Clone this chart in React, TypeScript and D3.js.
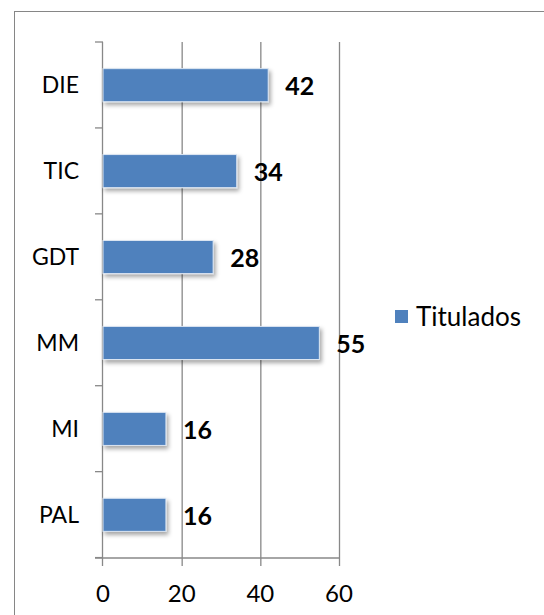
import { useRef, useEffect } from 'react';
import * as d3 from 'd3';

const categories = ['DIE', 'TIC', 'GDT', 'MM', 'MI', 'PAL'];
const titulados = [42, 34, 28, 55, 16, 16];
const xTicks = [0, 20, 40, 60];
const seriesName = 'Titulados';

const W = 544;
const H = 615;

function App() {
  const ref = useRef<SVGSVGElement>(null);

  useEffect(() => {
    const svg = d3.select(ref.current);
    svg.selectAll('*').remove();

    const left = 103, right = 339, top = 42, bottom = 558;
    const x = d3.scaleLinear().domain([0, 60]).range([left, right]);
    const y = d3.scaleBand<string>().domain(categories).range([top, bottom])
      .paddingInner(0.615).paddingOuter(0.31);
    const step = y.step();
    const grey = '#888888';

    const defs = svg.append('defs');
    const f = defs.append('filter').attr('id', 'shadow')
      .attr('x', '-10%').attr('y', '-20%').attr('width', '130%').attr('height', '160%');
    f.append('feDropShadow').attr('dx', 2).attr('dy', 3).attr('stdDeviation', 2)
      .attr('flood-color', '#000').attr('flood-opacity', 0.35);

    // chart border
    svg.append('rect').attr('x', 14.5).attr('y', 11.5).attr('width', 540).attr('height', 620)
      .attr('fill', 'white').attr('stroke', '#868686').attr('stroke-width', 1);

    // vertical gridlines
    svg.append('g').selectAll('line').data(xTicks.slice(1)).join('line')
      .attr('x1', d => x(d) + 0.5).attr('x2', d => x(d) + 0.5)
      .attr('y1', top).attr('y2', bottom)
      .attr('stroke', grey).attr('stroke-width', 1.3);

    // y axis line + ticks at band boundaries
    svg.append('line').attr('x1', left - 0.5).attr('x2', left - 0.5)
      .attr('y1', top).attr('y2', bottom).attr('stroke', grey).attr('stroke-width', 1.3);
    svg.append('g').selectAll('line').data(d3.range(categories.length + 1)).join('line')
      .attr('x1', left - 8).attr('x2', left)
      .attr('y1', i => top + i * step).attr('y2', i => top + i * step)
      .attr('stroke', grey).attr('stroke-width', 1.3);

    // x axis line + ticks
    svg.append('line').attr('x1', left - 8).attr('x2', right)
      .attr('y1', bottom).attr('y2', bottom).attr('stroke', grey).attr('stroke-width', 1.3);
    svg.append('g').selectAll('line').data(xTicks).join('line')
      .attr('x1', d => x(d) - 0.5 + (d === 0 ? 0 : 1)).attr('x2', d => x(d) - 0.5 + (d === 0 ? 0 : 1))
      .attr('y1', bottom).attr('y2', bottom + 8)
      .attr('stroke', grey).attr('stroke-width', 1.3);
    svg.append('g').selectAll('text').data(xTicks).join('text')
      .attr('x', d => x(d)).attr('y', 594).attr('dy', '0.35em')
      .attr('text-anchor', 'middle')
      .style('font-family', 'Lato, sans-serif').style('font-size', '24px').attr('fill', '#000')
      .text(d => d);

    // category labels
    svg.append('g').selectAll('text').data(categories).join('text')
      .attr('x', 79).attr('y', d => y(d)! + y.bandwidth() / 2).attr('dy', '0.35em')
      .attr('text-anchor', 'end')
      .style('font-family', 'Lato, sans-serif').style('font-size', '23px').attr('fill', '#000')
      .text(d => d);

    // bars
    svg.append('g').selectAll('rect').data(categories).join('rect')
      .attr('x', left).attr('y', (d) => y(d)!)
      .attr('width', (d, i) => x(titulados[i]) - left).attr('height', y.bandwidth())
      .attr('fill', '#4F81BD').attr('stroke', '#DCE6F2').attr('stroke-width', 1)
      .attr('filter', 'url(#shadow)');

    // data labels
    svg.append('g').selectAll('text').data(categories).join('text')
      .attr('x', (d, i) => x(titulados[i]) + 17).attr('y', d => y(d)! + y.bandwidth() / 2 + 1)
      .attr('dy', '0.35em')
      .style('font-family', 'Lato, sans-serif').style('font-size', '25px').style('font-weight', 'bold')
      .attr('fill', '#000')
      .text((d, i) => titulados[i]);

    // legend
    svg.append('rect').attr('x', 395).attr('y', 310).attr('width', 13).attr('height', 13)
      .attr('fill', '#4F81BD');
    svg.append('text').attr('x', 416).attr('y', 317).attr('dy', '0.35em')
      .style('font-family', 'Lato, sans-serif').style('font-size', '26px').attr('fill', '#000')
      .text(seriesName);
  }, []);

  return (
    <div style={{ position: 'fixed', left: 0, top: 0, width: W, height: H, background: 'white' }}>
      <svg ref={ref} width={W} height={H} style={{ display: 'block' }} />
    </div>
  );
}

export default App;
